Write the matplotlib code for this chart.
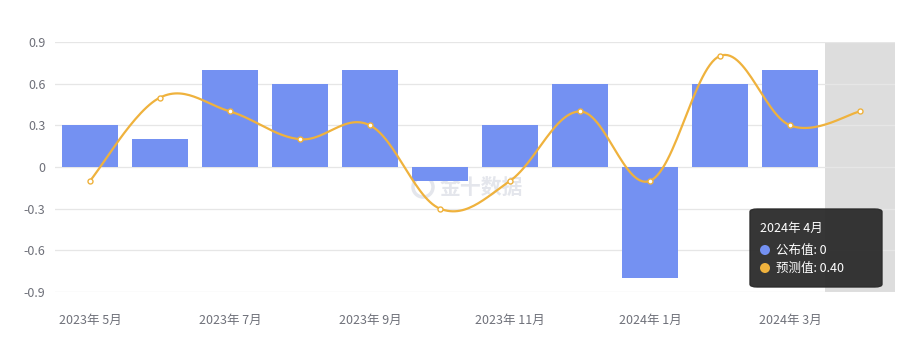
import numpy as np
import matplotlib
matplotlib.use("Agg")
import matplotlib.pyplot as plt
from matplotlib.patches import FancyBboxPatch, Ellipse

plt.rcParams['font.family'] = ['Noto Sans CJK SC', 'DejaVu Sans']

months = ["2023年 5月", "2023年 6月", "2023年 7月", "2023年 8月", "2023年 9月", "2023年 10月",
          "2023年 11月", "2023年 12月", "2024年 1月", "2024年 2月", "2024年 3月", "2024年 4月"]
published = [0.3, 0.2, 0.7, 0.6, 0.7, -0.1, 0.3, 0.6, -0.8, 0.6, 0.7, 0]
forecast = [-0.1, 0.5, 0.4, 0.2, 0.3, -0.3, -0.1, 0.4, -0.1, 0.8, 0.3, 0.4]
yticks = [-0.9, -0.6, -0.3, 0, 0.3, 0.6, 0.9]
ytick_labels = ["-0.9", "-0.6", "-0.3", "0", "0.3", "0.6", "0.9"]

BAR = "#7491f2"
LINE = "#efb23d"
TXT = "#6e7079"
W, H = 913, 346


def smooth_curve(xs, ys, n=30, k=0.36):
    # bezier smoothing between points, roughly like echarts smooth line
    xs = np.asarray(xs, float)
    ys = np.asarray(ys, float)
    px, py = [], []
    m = len(xs)
    for i in range(m - 1):
        p0 = np.array([xs[max(i - 1, 0)], ys[max(i - 1, 0)]])
        p1 = np.array([xs[i], ys[i]])
        p2 = np.array([xs[i + 1], ys[i + 1]])
        p3 = np.array([xs[min(i + 2, m - 1)], ys[min(i + 2, m - 1)]])
        c1 = p1 + (p2 - p0) * k / 2
        c2 = p2 - (p3 - p1) * k / 2
        t = np.linspace(0, 1, n)[:, None]
        seg = ((1 - t) ** 3) * p1 + 3 * ((1 - t) ** 2) * t * c1 + 3 * (1 - t) * t ** 2 * c2 + t ** 3 * p2
        px.extend(seg[:, 0])
        py.extend(seg[:, 1])
    return px, py


def fx(px):
    return px / W


def fy(py):
    return (H - py) / H


fig = plt.figure(figsize=(9.13, 3.46), dpi=100)
ax = fig.add_axes([fx(55), fy(292), 840 / W, 250 / H])

x = np.arange(len(months))
ax.set_xlim(-0.5, len(months) - 0.5)
ax.set_ylim(-0.9, 0.9)

# highlighted category
ax.axvspan(len(months) - 1.5, len(months) - 0.5, color="#dddddd", zorder=0, lw=0)

for y in yticks:
    ax.axhline(y, color="#e6e6e6", lw=0.9, zorder=0.5)

ax.bar(x, published, width=0.8, color=BAR, zorder=2)

cx, cy = smooth_curve(x, forecast)
ax.plot(cx, cy, color=LINE, lw=1.6, zorder=3, solid_capstyle="round")
ax.plot(x, forecast, linestyle="none", marker="o", markersize=3.6,
        markerfacecolor="white", markeredgecolor=LINE, markeredgewidth=1, zorder=4)

ax.set_yticks(yticks)
ax.set_yticklabels(ytick_labels)
ax.set_xticks(x[::2])
ax.set_xticklabels(months[::2])
ax.tick_params(axis="both", length=0, labelsize=9, colors=TXT)
ax.tick_params(axis="y", pad=7)
ax.tick_params(axis="x", pad=16)
for s in ax.spines.values():
    s.set_visible(False)

# watermark
wm = "#e4e6ec"
ax.text(fx(440), fy(187), "金十数据", fontsize=15, color=wm, ha="left", va="center",
        fontweight="bold", transform=fig.transFigure, zorder=1.5)
ax.add_artist(Ellipse((fx(423), fy(187)), 20 / W, 20 / H, transform=fig.transFigure,
                      fill=False, ec=wm, lw=2.5, zorder=1.5))

# tooltip
box = FancyBboxPatch((fx(750), fy(287)), 132 / W, 78 / H, boxstyle="round,pad=0,rounding_size=0.008",
                     transform=fig.transFigure, fc="#2b2b2b", ec="#2b2b2b", alpha=0.95, zorder=10)
fig.patches.append(box)
fig.text(fx(760), fy(228), "2024年 4月", color="white", fontsize=9,
         va="center", ha="left", zorder=11)
rows = [("公布值: 0", BAR, 250), ("预测值: 0.40", LINE, 268)]
for label, col, py in rows:
    fig.patches.append(Ellipse((fx(765), fy(py)), 10 / W, 10 / H, transform=fig.transFigure,
                               fc=col, ec="none", zorder=11))
    fig.text(fx(776), fy(py), label, color="white", fontsize=9,
             va="center", ha="left", zorder=11)

fig.savefig("out.png", dpi=100)
